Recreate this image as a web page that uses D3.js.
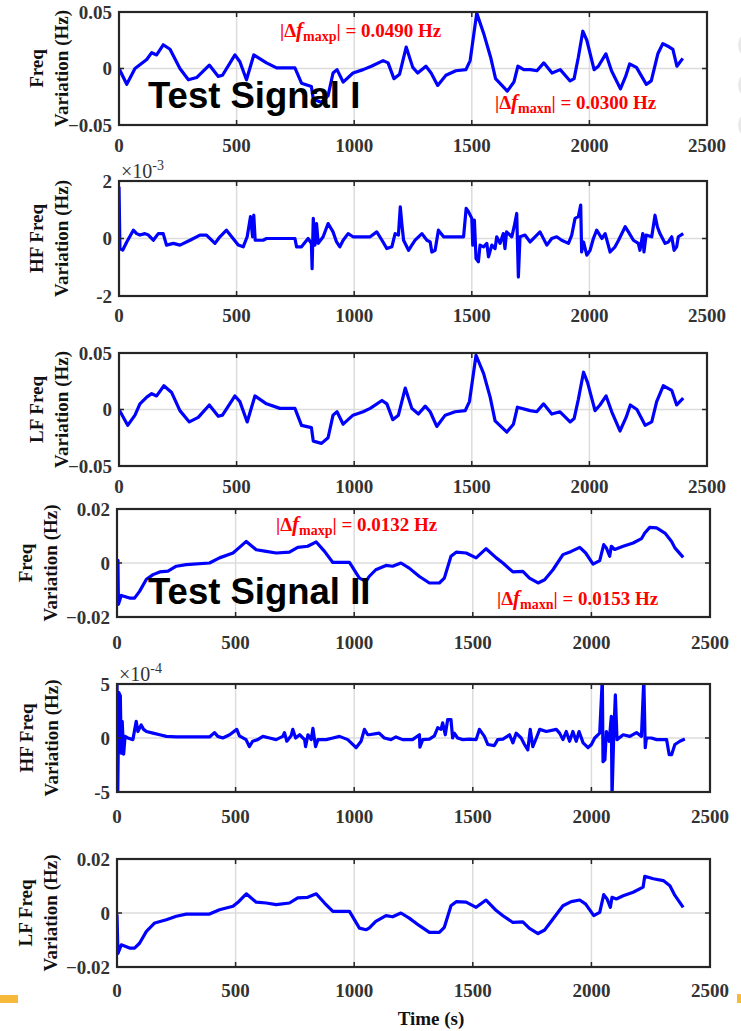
<!DOCTYPE html>
<html><head><meta charset="utf-8">
<script src="https://cdn.jsdelivr.net/npm/d3@7"></script>
<style>body{margin:0;background:#fff;}svg{display:block;}</style>
</head><body>
<svg id="c" width="741" height="1031"></svg>
<script>
// ---- data (time in s, value) ----
const xTicks = [0, 500, 1000, 1500, 2000, 2500];

const freqI = [[0,0],[33,-0.014],[68,0],[118,0.008],[139,0.014],[160,0.012],[188,0.021],[217,0.017],[259,0],[295,-0.010],[330,-0.008],[384,0.003],[422,-0.007],[440,-0.006],[493,0.012],[514,0.006],[542,-0.010],[573,0.012],[627,0.005],[670,0.0005],[748,0.0005],[776,-0.013],[818,-0.016],[826,-0.027],[861,-0.030],[889,-0.024],[910,-0.004],[927,-0.001],[953,-0.012],[995,-0.004],[1038,-0.001],[1073,0.002],[1123,0.007],[1144,0.005],[1169,-0.009],[1193,-0.005],[1221,0.019],[1249,0.001],[1270,-0.004],[1305,0.002],[1327,-0.004],[1355,-0.015],[1390,-0.006],[1432,-0.002],[1475,-0.001],[1493,0.007],[1521,0.049],[1552,0.030],[1580,0.010],[1601,-0.009],[1651,-0.020],[1679,-0.012],[1696,0.002],[1721,-0.001],[1749,-0.001],[1777,-0.002],[1806,0.005],[1841,-0.004],[1876,-0.001],[1918,-0.011],[1935,-0.009],[1953,0.010],[1972,0.033],[1989,0.025],[2020,-0.001],[2038,0.002],[2070,0.013],[2094,-0.002],[2132,-0.018],[2154,-0.007],[2171,0.004],[2200,0.001],[2242,-0.014],[2263,-0.011],[2291,0.013],[2312,0.022],[2340,0.019],[2355,0.017],[2372,0.002],[2397,0.009]];

const hfI = [[0,1.8],[4,-0.35],[16,-0.4],[33,-0.12],[61,0.29],[75,0.17],[89,0.12],[110,0.17],[125,0.12],[146,-0.06],[167,0.17],[188,0.17],[202,-0.23],[231,-0.17],[259,-0.23],[302,-0.06],[344,0.12],[372,0.12],[408,-0.17],[429,0.06],[457,0.29],[479,0.06],[507,-0.23],[528,-0.29],[545,0.06],[559,0.76],[568,0.06],[573,0.81],[579,-0.06],[613,-0.06],[627,0],[748,0],[755,-0.29],[776,-0.29],[804,0],[818,-0.17],[821,-1.05],[826,0.70],[833,-0.23],[840,0.52],[847,-0.17],[868,0.06],[889,0.52],[910,0.23],[925,-0.12],[939,-0.29],[953,-0.06],[974,0.17],[995,0.06],[1068,0.06],[1096,0.23],[1118,-0.06],[1139,-0.35],[1160,-0.29],[1174,0.17],[1188,0.12],[1196,1.1],[1203,0.47],[1210,-0.06],[1231,-0.41],[1245,-0.23],[1259,-0.06],[1288,0.17],[1309,-0.06],[1323,-0.12],[1330,-0.47],[1344,-0.41],[1358,0.29],[1380,0.06],[1465,0.06],[1476,1.05],[1486,0.93],[1500,0.7],[1504,-0.23],[1511,0.64],[1518,-0.7],[1528,-0.81],[1535,-0.23],[1550,-0.29],[1564,-0.17],[1571,-0.64],[1585,-0.23],[1599,-0.35],[1606,0.06],[1620,-0.17],[1634,0.17],[1641,-0.35],[1648,0.23],[1670,0.06],[1680,0.41],[1691,0.87],[1698,-1.34],[1705,0.06],[1726,0.12],[1748,-0.12],[1769,0.06],[1790,0.23],[1819,-0.23],[1840,0],[1861,0.06],[1882,-0.06],[1911,-0.17],[1925,0.12],[1939,0.7],[1953,0.76],[1963,1.16],[1967,-0.47],[1975,-0.12],[1989,-0.58],[2003,-0.41],[2017,0],[2031,0.29],[2053,0],[2067,0.17],[2088,-0.47],[2109,-0.29],[2124,-0.06],[2152,0.41],[2166,0.23],[2187,-0.06],[2208,-0.17],[2215,-0.41],[2227,0.17],[2232,-0.47],[2241,0.12],[2265,0.06],[2279,0.81],[2289,0.41],[2300,0.17],[2322,-0.17],[2336,-0.12],[2350,0.06],[2360,-0.41],[2371,-0.29],[2378,0.06],[2399,0.17]];

const lfI = [[0,0],[37,-0.014],[68,-0.005],[89,0.005],[118,0.011],[139,0.014],[160,0.012],[191,0.021],[224,0.015],[259,-0.001],[299,-0.011],[337,-0.007],[384,0.004],[422,-0.006],[440,-0.005],[493,0.012],[514,0.007],[545,-0.011],[578,0.012],[627,0.005],[684,0.001],[748,0.001],[776,-0.014],[818,-0.016],[826,-0.028],[861,-0.030],[889,-0.025],[910,-0.005],[927,-0.002],[953,-0.013],[995,-0.005],[1038,-0.002],[1068,0.001],[1118,0.008],[1139,0.005],[1164,-0.009],[1188,-0.005],[1217,0.019],[1245,0.001],[1273,-0.004],[1302,0.003],[1323,-0.002],[1351,-0.015],[1387,-0.005],[1429,-0.002],[1472,-0.001],[1490,0.007],[1518,0.048],[1550,0.032],[1578,0.011],[1599,-0.010],[1649,-0.020],[1677,-0.013],[1694,0.002],[1748,-0.001],[1776,-0.002],[1805,0.005],[1840,-0.004],[1875,-0.002],[1918,-0.011],[1935,-0.008],[1953,0.009],[1975,0.033],[1992,0.024],[2024,-0.001],[2045,0.004],[2071,0.012],[2095,-0.002],[2130,-0.019],[2156,-0.007],[2174,0.004],[2202,0],[2237,-0.014],[2265,-0.011],[2286,0.007],[2314,0.021],[2350,0.017],[2371,0.004],[2399,0.010]];

const freqII = [[0,0.001],[4,0.001],[6,-0.0153],[18,-0.012],[53,-0.013],[74,-0.013],[95,-0.0105],[124,-0.006],[152,-0.0043],[180,-0.0033],[215,-0.003],[250,-0.0012],[292,-0.0006],[390,0],[432,0.0019],[489,0.0037],[514,0.0056],[545,0.008],[587,0.0049],[629,0.0043],[671,0.0037],[727,0.004],[762,0.0058],[804,0.0062],[840,0.0078],[875,0.0043],[910,0.0002],[980,0.0002],[1022,-0.0056],[1050,-0.0068],[1063,-0.005],[1091,-0.0025],[1134,-0.0009],[1162,-0.0012],[1197,0],[1232,-0.0019],[1275,-0.005],[1317,-0.0074],[1359,-0.0074],[1380,-0.0056],[1408,0.0025],[1430,0.004],[1472,0.0037],[1514,0.0019],[1556,0.0053],[1599,0.0019],[1627,0],[1669,-0.0033],[1711,-0.0031],[1739,-0.0056],[1775,-0.0074],[1803,-0.0062],[1838,-0.0025],[1880,0.0031],[1915,0.0043],[1951,0.0058],[1976,0.0037],[2007,-0.0004],[2035,0.0009],[2052,0.0068],[2063,0.0056],[2077,0.0025],[2084,0.0062],[2098,0.005],[2134,0.0062],[2176,0.0074],[2211,0.009],[2225,0.0111],[2246,0.0132],[2275,0.013],[2310,0.0111],[2338,0.008],[2352,0.0056],[2387,0.0021]];

const hfII = [[0,5.5],[3,-5.5],[8,4.2],[14,3.9],[18,-1.4],[22,1.55],[28,-1.5],[34,0.15],[46,0],[67,-0.15],[81,1.55],[88,0.6],[102,1.2],[112,0.8],[124,0.6],[152,0.45],[180,0.3],[208,0.15],[250,0.1],[390,0.1],[411,0.5],[425,0.15],[446,0],[475,0.3],[505,0.8],[516,0.2],[544,-0.15],[558,-0.8],[572,-0.3],[593,-0.15],[615,0.15],[643,0],[671,-0.15],[699,0.15],[706,0.5],[716,-0.3],[734,0.2],[741,0.8],[753,0],[770,0.3],[791,-0.15],[795,-0.8],[805,0.3],[819,-0.15],[826,0.9],[837,-0.8],[847,-0.15],[882,-0.15],[910,0],[938,0.15],[973,-0.15],[1008,-0.9],[1029,-0.3],[1043,0.8],[1057,0.3],[1063,0.3],[1105,0.45],[1127,0],[1155,-0.15],[1176,0.1],[1204,-0.15],[1246,-0.15],[1275,0.3],[1277,-0.85],[1289,-0.15],[1317,-0.1],[1338,0.2],[1352,0.95],[1366,0.8],[1373,1.4],[1384,0.3],[1394,1.7],[1408,1.7],[1415,0],[1422,0.45],[1436,0],[1458,-0.15],[1486,-0.1],[1514,-0.15],[1528,0.8],[1549,0.15],[1563,-0.6],[1591,-0.7],[1605,-0.15],[1627,-0.1],[1655,0.3],[1669,-0.45],[1683,0.45],[1704,0],[1718,-0.6],[1732,-1.1],[1742,0.8],[1753,-0.8],[1768,0],[1782,0.8],[1810,0.6],[1852,0.8],[1866,0.45],[1880,-0.15],[1894,0.6],[1908,-0.3],[1922,0.6],[1936,-0.3],[1948,0.6],[1965,-0.45],[1986,-0.9],[2000,-0.6],[2014,0],[2035,0.45],[2046,5.5],[2049,-2.2],[2057,-2.0],[2063,0.6],[2075,-0.3],[2084,2.0],[2087,-5.5],[2094,0.15],[2101,4.0],[2108,-0.15],[2134,0.3],[2162,0.15],[2190,0.5],[2211,0.15],[2221,5.5],[2227,-0.9],[2232,0],[2253,0],[2275,-0.15],[2317,-0.15],[2328,-1.55],[2338,-1.55],[2352,-0.6],[2373,-0.3],[2394,-0.1]];

const lfII = [[0,-0.0006],[4,-0.015],[18,-0.0118],[53,-0.013],[74,-0.013],[95,-0.0112],[124,-0.0068],[159,-0.0037],[208,-0.0025],[250,-0.0012],[292,-0.0004],[390,-0.0004],[432,0.0012],[489,0.0025],[514,0.0043],[545,0.0071],[587,0.004],[629,0.0037],[671,0.0031],[727,0.0037],[762,0.0056],[804,0.0058],[840,0.0071],[875,0.0037],[910,0.0006],[980,0.0006],[1022,-0.0056],[1050,-0.0062],[1063,-0.0056],[1091,-0.0031],[1134,-0.001],[1162,-0.0014],[1197,0],[1232,-0.0019],[1275,-0.0047],[1317,-0.0072],[1359,-0.0072],[1380,-0.0053],[1408,0.0027],[1430,0.0042],[1472,0.004],[1514,0.0021],[1556,0.0048],[1599,0.0009],[1627,-0.001],[1669,-0.0035],[1711,-0.0033],[1739,-0.0057],[1775,-0.0076],[1803,-0.0063],[1838,-0.0022],[1880,0.0027],[1915,0.0042],[1951,0.0048],[1976,0.0033],[2010,-0.001],[2035,0.0002],[2052,0.0068],[2066,0.0052],[2080,0.0021],[2087,0.0058],[2105,0.0052],[2134,0.0064],[2176,0.0077],[2218,0.0096],[2225,0.0136],[2261,0.0127],[2303,0.012],[2331,0.0101],[2352,0.0065],[2387,0.0021]];

const yTicksA = [-0.05, 0, 0.05];
const yTicksHF1 = [-2, 0, 2];
const yTicksB = [-0.02, 0, 0.02];
const yTicksHF2 = [-5, 0, 5];

const panels = [
  {data: freqI, yDom: [-0.05,0.05], yTicks: yTicksA, fmt: d=>d===0?"0":d3.format(".2f")(d), labels:["Freq","Variation (Hz)"], x0:119,x1:707,top:12,bottom:125,labX:[36,61], tickDy:27},
  {data: hfI, yDom: [-2,2], yTicks: yTicksHF1, fmt: d=>String(d), labels:["HF Freq","Variation (Hz)"], x0:119,x1:707,top:181,bottom:296,labX:[36,61], tickDy:26, exp:"-3"},
  {data: lfI, yDom: [-0.05,0.05], yTicks: yTicksA, fmt: d=>d===0?"0":d3.format(".2f")(d), labels:["LF Freq","Variation (Hz)"], x0:119,x1:707,top:353,bottom:466,labX:[36,61], tickDy:27},
  {data: freqII, yDom: [-0.02,0.02], yTicks: yTicksB, fmt: d=>d===0?"0":d3.format(".2f")(d), labels:["Freq","Variation (Hz)"], x0:117,x1:710,top:509,bottom:617,labX:[25,50], tickDy:32},
  {data: hfII, yDom: [-5,5], yTicks: yTicksHF2, fmt: d=>String(d), labels:["HF Freq","Variation (Hz)"], x0:117,x1:710,top:684,bottom:792,labX:[26,51], tickDy:31, exp:"-4"},
  {data: lfII, yDom: [-0.02,0.02], yTicks: yTicksB, fmt: d=>d===0?"0":d3.format(".2f")(d), labels:["LF Freq","Variation (Hz)"], x0:117,x1:710,top:859,bottom:967,labX:[25,50], tickDy:30}
];

const svg = d3.select("#c");
const SERIF = "'Liberation Serif','Times New Roman',serif";
const SANS = "'Liberation Sans',Arial,sans-serif";

// decorative page artifacts
[45,85,125].forEach(cy=>svg.append("circle").attr("cx",752).attr("cy",cy).attr("r",14).attr("fill","#e8e8e8"));
svg.append("rect").attr("x",0).attr("y",995).attr("width",18).attr("height",8).attr("fill","#f6b93b");
svg.append("rect").attr("x",737).attr("y",994).attr("width",4).attr("height",9).attr("fill","#f6b93b");

panels.forEach((p,i)=>{
  const x = d3.scaleLinear().domain([0,2500]).range([p.x0,p.x1]);
  const y = d3.scaleLinear().domain(p.yDom).range([p.bottom,p.top]);
  const g = svg.append("g");
  const cid = "clip"+i;
  svg.append("clipPath").attr("id",cid).append("rect")
    .attr("x",p.x0).attr("y",p.top).attr("width",p.x1-p.x0).attr("height",p.bottom-p.top);

  // grid
  g.selectAll(".vg").data(xTicks.slice(1,-1)).join("line")
    .attr("x1",d=>x(d)).attr("x2",d=>x(d)).attr("y1",p.top).attr("y2",p.bottom)
    .attr("stroke","#dcdcdc").attr("stroke-width",1.5);
  g.selectAll(".hg").data(p.yTicks.slice(1,-1)).join("line")
    .attr("x1",p.x0).attr("x2",p.x1).attr("y1",d=>y(d)).attr("y2",d=>y(d))
    .attr("stroke","#dcdcdc").attr("stroke-width",1.5);

  // line
  const line = d3.line().x(d=>x(d[0])).y(d=>y(d[1]));
  g.append("path").datum(p.data).attr("d",line).attr("clip-path",`url(#${cid})`)
    .attr("fill","none").attr("stroke","#0000ff").attr("stroke-width",3.2).attr("stroke-linejoin","round");

  // inward ticks
  g.selectAll(".tb").data(xTicks.slice(1,-1)).join("line")
    .attr("x1",d=>x(d)).attr("x2",d=>x(d)).attr("y1",p.bottom).attr("y2",p.bottom-5)
    .attr("stroke","#262626").attr("stroke-width",1.5);
  g.selectAll(".tt").data(xTicks.slice(1,-1)).join("line")
    .attr("x1",d=>x(d)).attr("x2",d=>x(d)).attr("y1",p.top).attr("y2",p.top+5)
    .attr("stroke","#262626").attr("stroke-width",1.5);
  g.selectAll(".tl").data(p.yTicks.slice(1,-1)).join("line")
    .attr("x1",p.x0).attr("x2",p.x0+5).attr("y1",d=>y(d)).attr("y2",d=>y(d))
    .attr("stroke","#262626").attr("stroke-width",1.5);
  g.selectAll(".tr").data(p.yTicks.slice(1,-1)).join("line")
    .attr("x1",p.x1).attr("x2",p.x1-5).attr("y1",d=>y(d)).attr("y2",d=>y(d))
    .attr("stroke","#262626").attr("stroke-width",1.5);

  // box
  g.append("rect").attr("x",p.x0).attr("y",p.top).attr("width",p.x1-p.x0).attr("height",p.bottom-p.top)
    .attr("fill","none").attr("stroke","#262626").attr("stroke-width",2.2);

  // x tick labels
  g.selectAll(".xl").data(xTicks).join("text")
    .attr("x",d=>x(d)).attr("y",p.bottom+p.tickDy).attr("text-anchor","middle")
    .attr("font-family",SERIF).attr("font-weight","bold").attr("font-size",19).attr("fill","#333")
    .text(d=>d);
  // y tick labels
  g.selectAll(".yl").data(p.yTicks).join("text")
    .attr("x",p.x0-7).attr("y",d=>y(d)).attr("dy","0.35em").attr("text-anchor","end")
    .attr("font-family",SERIF).attr("font-weight","bold").attr("font-size",19).attr("fill","#333")
    .text(p.fmt);

  // y labels
  const cy = (p.top+p.bottom)/2;
  p.labels.forEach((t,k)=>{
    g.append("text").attr("transform",`translate(${p.labX[k]},${cy}) rotate(-90)`)
      .attr("text-anchor","middle").attr("dy","0.35em")
      .attr("font-family",SERIF).attr("font-weight","bold").attr("font-size",19).attr("fill","#111")
      .text(t);
  });

  // exponent
  if(p.exp){
    const t = g.append("text").attr("x",p.x0+2).attr("y",p.top-3)
      .attr("font-family",SERIF).attr("font-size",20).attr("fill","#333");
    t.append("tspan").text("×10");
    t.append("tspan").attr("dy",-8).attr("font-size",14).text(p.exp);
  }
});

// annotations
function annot(xp, yp, sub, val){
  const t = svg.append("text").attr("x",xp).attr("y",yp)
    .attr("font-family",SERIF).attr("font-weight","bold").attr("font-size",19).attr("fill","#ff0000");
  t.append("tspan").text("|Δ");
  t.append("tspan").attr("font-style","italic").attr("font-size",21).text("f");
  t.append("tspan").attr("dy",4).attr("font-size",14).text(sub);
  t.append("tspan").attr("dy",-4).text("| = " + val + " Hz");
}
annot(280, 37, "maxp", "0.0490");
annot(495, 109, "maxn", "0.0300");
annot(276, 531, "maxp", "0.0132");
annot(497, 605, "maxn", "0.0153");

function title(xp, yp, s){
  svg.append("text").attr("x",xp).attr("y",yp)
    .attr("font-family",SANS).attr("font-weight","bold").attr("font-size",36.5).attr("fill","#000")
    .text(s);
}
title(148, 108, "Test Signal I");
title(148, 604, "Test Signal II");

svg.append("text").attr("x",431).attr("y",1025).attr("text-anchor","middle")
  .attr("font-family",SERIF).attr("font-weight","bold").attr("font-size",19).attr("fill","#111")
  .text("Time (s)");
</script>
</body></html>
